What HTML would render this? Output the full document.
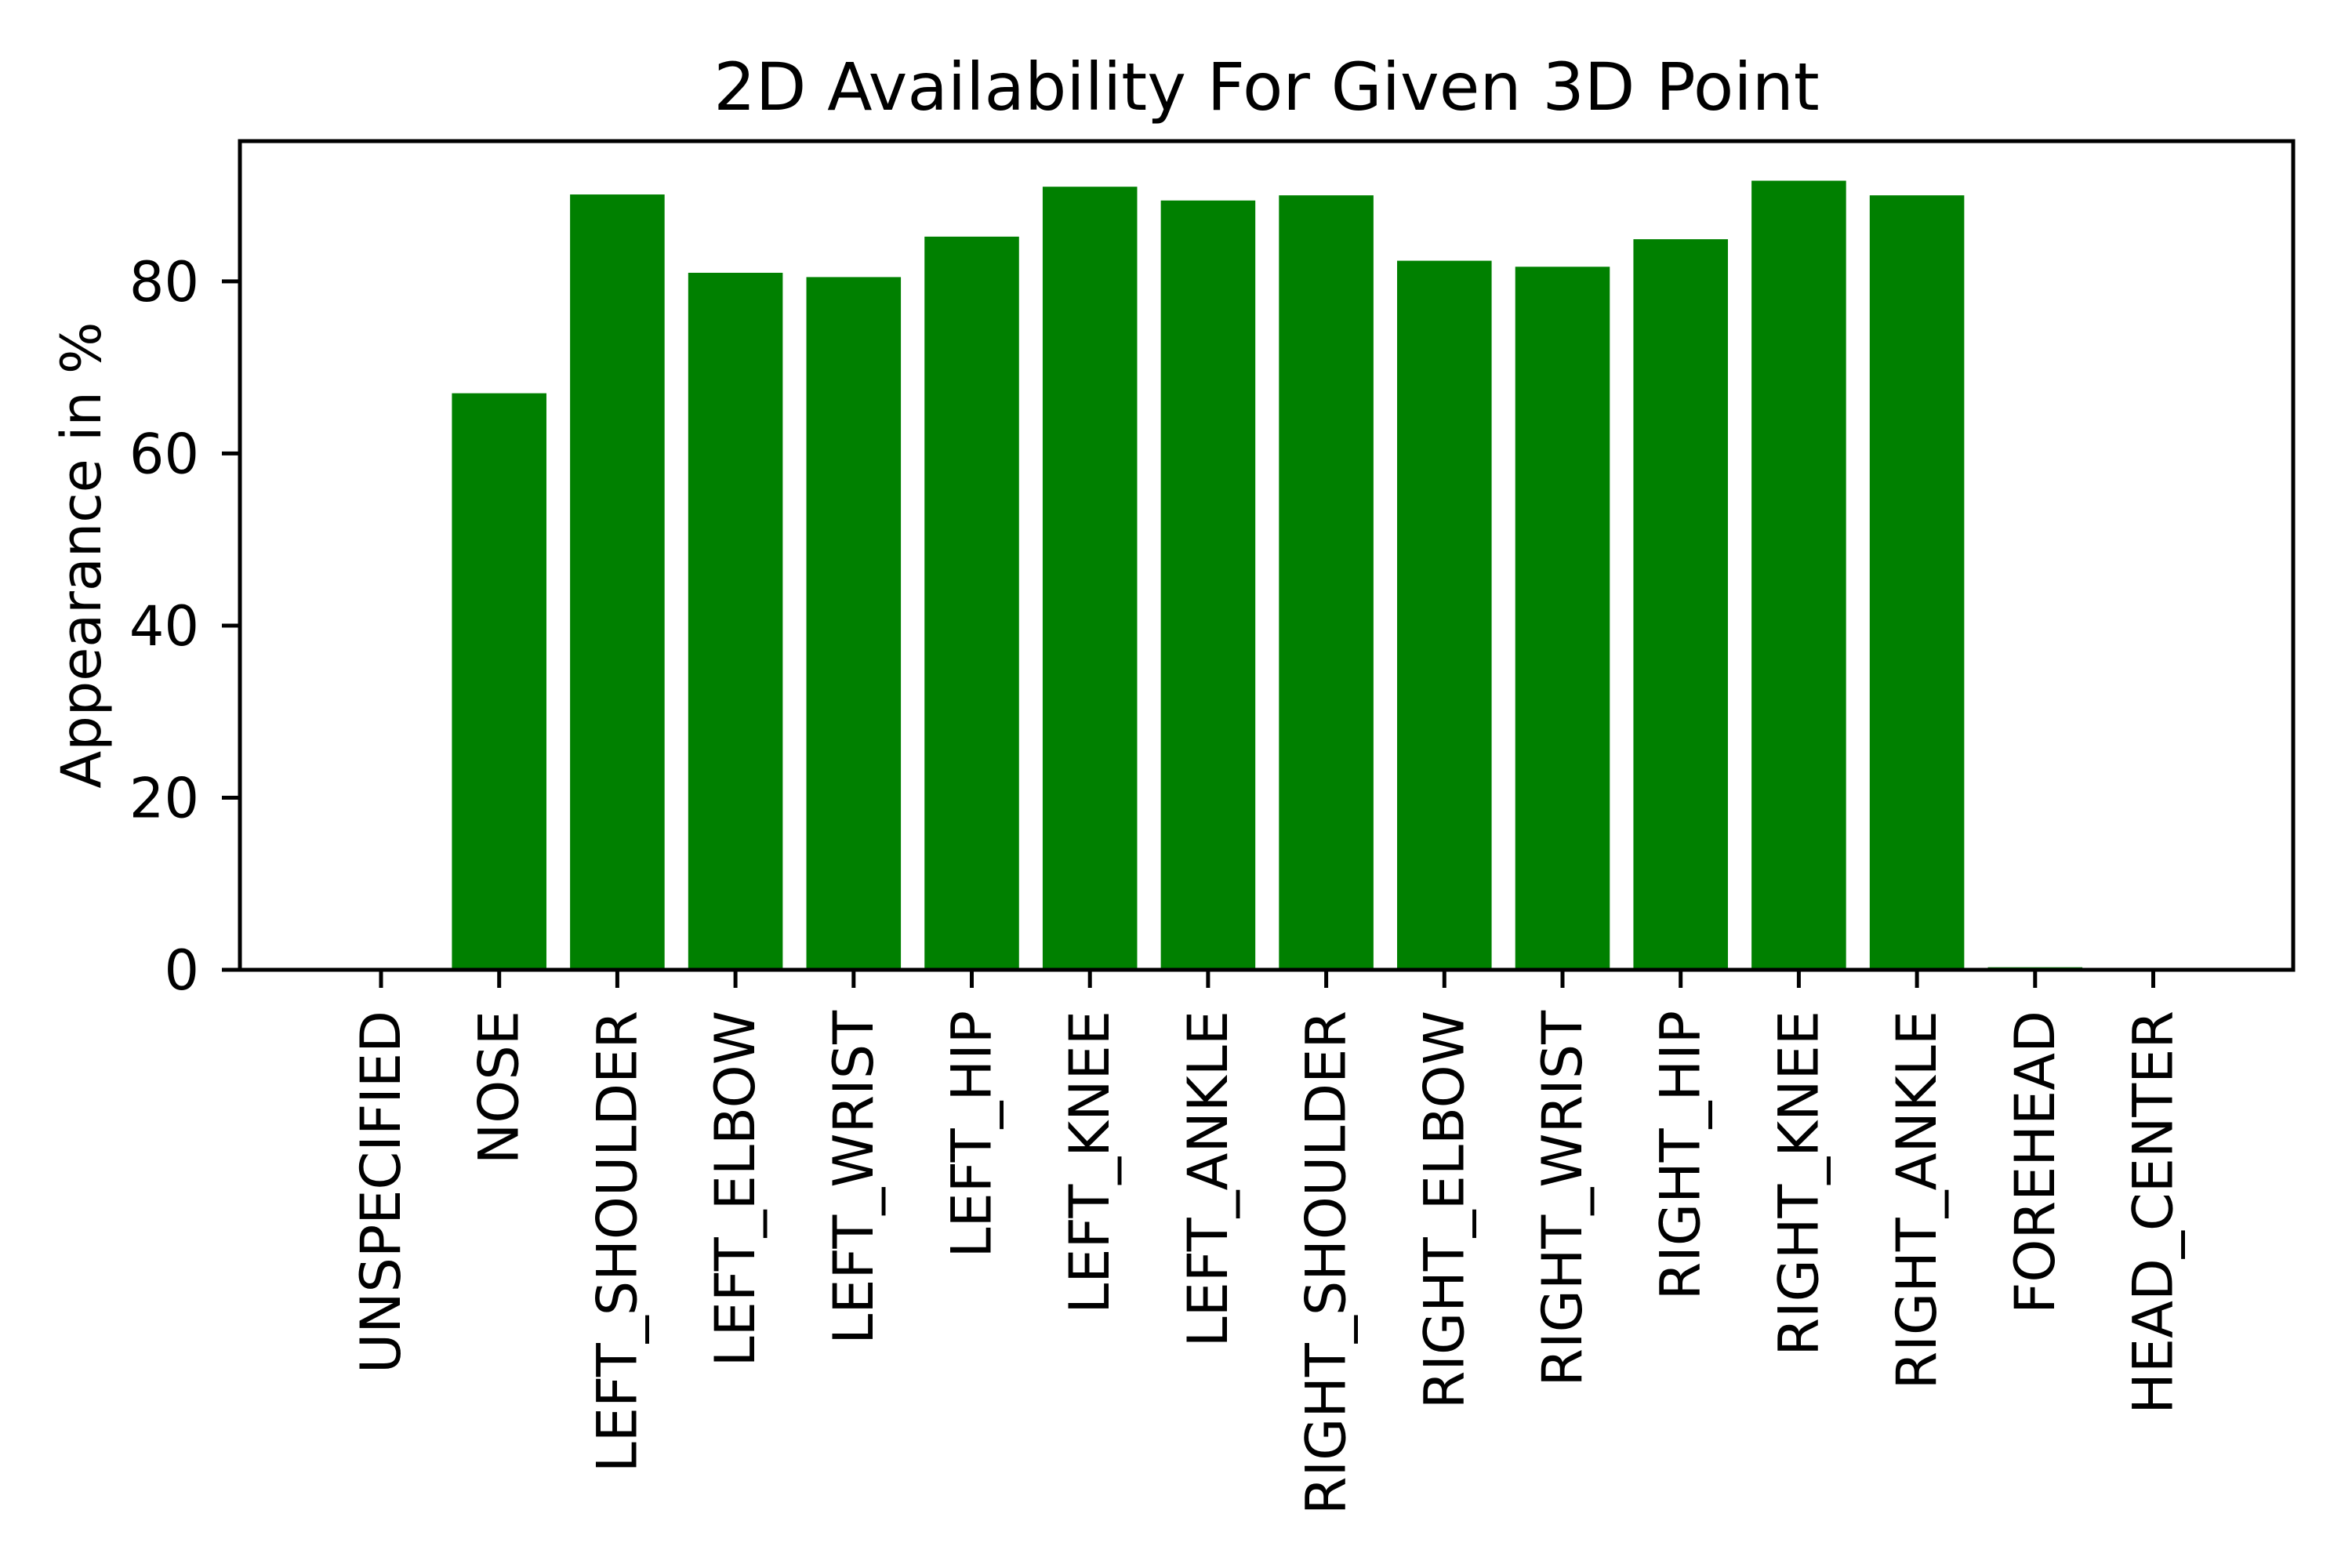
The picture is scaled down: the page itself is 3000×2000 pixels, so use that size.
<!DOCTYPE html>
<html><head><meta charset="utf-8"><style>
html,body{margin:0;padding:0;background:#fff;}
svg{display:block;font-family:"DejaVu Sans","Liberation Sans",sans-serif;}
</style></head><body>
<svg id="chart" width="3000" height="2000" viewBox="0 0 3000 2000" xmlns="http://www.w3.org/2000/svg">
<rect width="3000" height="2000" fill="#fff"/>
<text x="1615.5" y="140" font-size="84" text-anchor="middle">2D Availability For Given 3D Point</text>
<text x="128" y="708" font-size="70" text-anchor="middle" transform="rotate(-90 128 708)">Appearance in %</text>
<g id="bars"></g>
<g id="ticks"></g>
<rect x="306" y="180" width="2619" height="1057" fill="none" stroke="#000" stroke-width="5"/>
</svg>
<script>
const categories = ["UNSPECIFIED","NOSE","LEFT_SHOULDER","LEFT_ELBOW","LEFT_WRIST","LEFT_HIP","LEFT_KNEE","LEFT_ANKLE","RIGHT_SHOULDER","RIGHT_ELBOW","RIGHT_WRIST","RIGHT_HIP","RIGHT_KNEE","RIGHT_ANKLE","FOREHEAD","HEAD_CENTER"];
const values = [0, 67.0, 90.1, 81.0, 80.5, 85.2, 91.0, 89.4, 90.0, 82.4, 81.7, 84.9, 91.7, 90.0, 0.3, 0];
const yTicks = [0, 20, 40, 60, 80];

const NS = "http://www.w3.org/2000/svg";
const plotLeft = 306, plotRight = 2925, plotTop = 180, plotBottom = 1237;
const yMin = 0, yMax = 96.3;
const x0 = 486, step = 150.7, barW = 0.8 * step;
function xPos(i){ return x0 + i * step; }
function yPos(v){ return plotBottom - (v - yMin) / (yMax - yMin) * (plotBottom - plotTop); }

const barsG = document.getElementById('bars');
const ticksG = document.getElementById('ticks');

values.forEach((v, i) => {
  const r = document.createElementNS(NS, 'rect');
  
  
  r.setAttribute('x', xPos(i) - barW / 2);
  r.setAttribute('y', yPos(v));
  r.setAttribute('width', barW);
  r.setAttribute('height', Math.max(0, plotBottom - yPos(v)));
  r.setAttribute('fill', '#008000');
  barsG.appendChild(r);
});

categories.forEach((c, i) => {
  const x = xPos(i);
  const t = document.createElementNS(NS, 'line');
  
  
  t.setAttribute('x1', x); t.setAttribute('x2', x);
  t.setAttribute('y1', plotBottom); t.setAttribute('y2', plotBottom + 23);
  t.setAttribute('stroke', '#000'); t.setAttribute('stroke-width', '5');
  ticksG.appendChild(t);
  const l = document.createElementNS(NS, 'text');
  
  
  const ly = 1289;
  l.setAttribute('x', x); l.setAttribute('y', ly);
  l.setAttribute('font-size', '70');
  l.setAttribute('text-anchor', 'end');
  l.setAttribute('dominant-baseline', 'central');
  l.setAttribute('transform', 'rotate(-90 ' + x + ' ' + ly + ')');
  l.textContent = c;
  ticksG.appendChild(l);
});

yTicks.forEach(v => {
  const y = yPos(v);
  const t = document.createElementNS(NS, 'line');
  
  
  t.setAttribute('x1', plotLeft - 23); t.setAttribute('x2', plotLeft);
  t.setAttribute('y1', y); t.setAttribute('y2', y);
  t.setAttribute('stroke', '#000'); t.setAttribute('stroke-width', '5');
  ticksG.appendChild(t);
  const l = document.createElementNS(NS, 'text');
  
  
  l.setAttribute('x', 254); l.setAttribute('y', y + 25);
  l.setAttribute('font-size', '70');
  l.setAttribute('text-anchor', 'end');
  l.textContent = String(v);
  ticksG.appendChild(l);
});
</script>
</body></html>
